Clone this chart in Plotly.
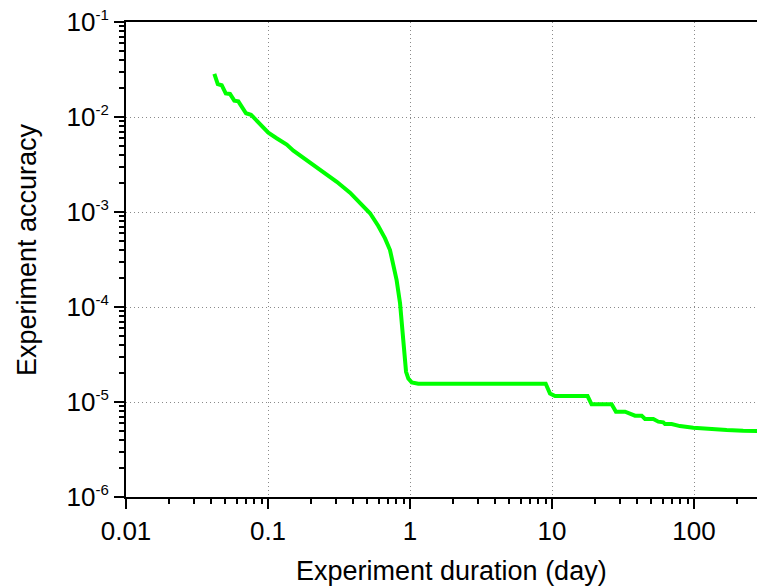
import plotly.graph_objects as go

duration_day = [0.0419, 0.0443, 0.0472, 0.0504, 0.054, 0.0579, 0.0618, 0.070, 0.0759, 0.0879,
                0.1005, 0.115, 0.1355, 0.151, 0.1726, 0.1977, 0.245, 0.305, 0.378, 0.457,
                0.523, 0.598, 0.667, 0.723, 0.762, 0.805, 0.851, 0.883, 0.912, 0.938,
                0.973, 1.028, 1.144, 9.03, 9.68, 10.5, 17.8, 19.0, 26.3, 28.2,
                32.7, 38.4, 42.8, 45.2, 51.7, 56.1, 60.8, 62.5, 69.6, 79.6,
                98.9, 129.6, 170, 222, 316]
accuracy = [0.0284, 0.0222, 0.0216, 0.0177, 0.0175, 0.01485, 0.0146, 0.01094, 0.01057, 0.0083,
            0.00684, 0.00597, 0.00512, 0.00442, 0.00382, 0.00336, 0.00264, 0.00208, 0.0016, 0.00121,
            0.00097, 0.000712, 0.000528, 0.000398, 0.000288, 0.000192, 0.0001094, 5.73e-5, 3.0e-5, 2.08e-5,
            1.77e-5, 1.61e-5, 1.56e-5, 1.56e-5, 1.23e-5, 1.156e-5, 1.156e-5, 9.46e-6, 9.46e-6, 7.9e-6,
            7.9e-6, 7.18e-6, 7.18e-6, 6.62e-6, 6.62e-6, 6.21e-6, 6.11e-6, 5.86e-6, 5.86e-6, 5.58e-6,
            5.36e-6, 5.19e-6, 5.07e-6, 4.99e-6, 4.95e-6]

x_tickvals = [0.01, 0.1, 1, 10, 100]
x_ticktext = ["0.01", "0.1", "1", "10", "100"]
y_exponents = [-6, -5, -4, -3, -2, -1]
y_tickvals = [10.0 ** e for e in y_exponents]
y_ticktext = ["10<sup><span style='font-size:15px'>%d</span></sup>" % e for e in y_exponents]
x_title = "Experiment duration (day)"
y_title = "Experiment accuracy"

x_minor = [m * 10.0 ** d for d in range(-2, 3) for m in range(2, 10)]
y_minor = [m * 10.0 ** d for d in range(-6, -1) for m in range(2, 10)]

FONT = "Arial, Liberation Sans, sans-serif"

fig = go.Figure()
fig.add_trace(go.Scatter(x=duration_day, y=accuracy, mode="lines",
                         line=dict(color="#00FF00", width=4), showlegend=False))

axis_common = dict(
    showline=True, linecolor="black", linewidth=2,
    ticks="outside", ticklen=10, tickwidth=1.5, tickcolor="black",
    showgrid=True, gridcolor="#8a8a8a", griddash="1px,3px", gridwidth=1,
    zeroline=False, automargin=False, ticklabeloverflow="allow",
    tickfont=dict(family=FONT, size=26, color="black"),
)

fig.update_xaxes(
    type="log", range=[-2, 2.5],
    tickmode="array", tickvals=x_tickvals, ticktext=x_ticktext,
    mirror=True,
    minor=dict(tickmode="array", tickvals=x_minor, ticks="outside", ticklen=5,
               tickwidth=1.5, tickcolor="black", showgrid=False),
    **axis_common,
)
fig.update_yaxes(
    type="log", range=[-6, -1],
    tickmode="array", tickvals=y_tickvals, ticktext=y_ticktext,
    mirror=False,
    minor=dict(tickmode="array", tickvals=y_minor, ticks="outside", ticklen=5,
               tickwidth=1.5, tickcolor="black", showgrid=False),
    **axis_common,
)

title_font = dict(family=FONT, size=27, color="black")
fig.add_annotation(text=x_title, xref="paper", yref="paper", x=0.510, y=-0.156,
                   xanchor="center", yanchor="middle", showarrow=False, font=title_font)
fig.add_annotation(text=y_title, xref="paper", yref="paper", x=-0.155, y=0.522,
                   xanchor="center", yanchor="middle", showarrow=False, textangle=-90,
                   font=title_font)

fig.update_layout(
    width=757, height=580,
    margin=dict(l=118, r=0, t=14, b=91),
    plot_bgcolor="white", paper_bgcolor="white",
    font=dict(family=FONT, color="black"),
)

fig.write_html("out.html")
